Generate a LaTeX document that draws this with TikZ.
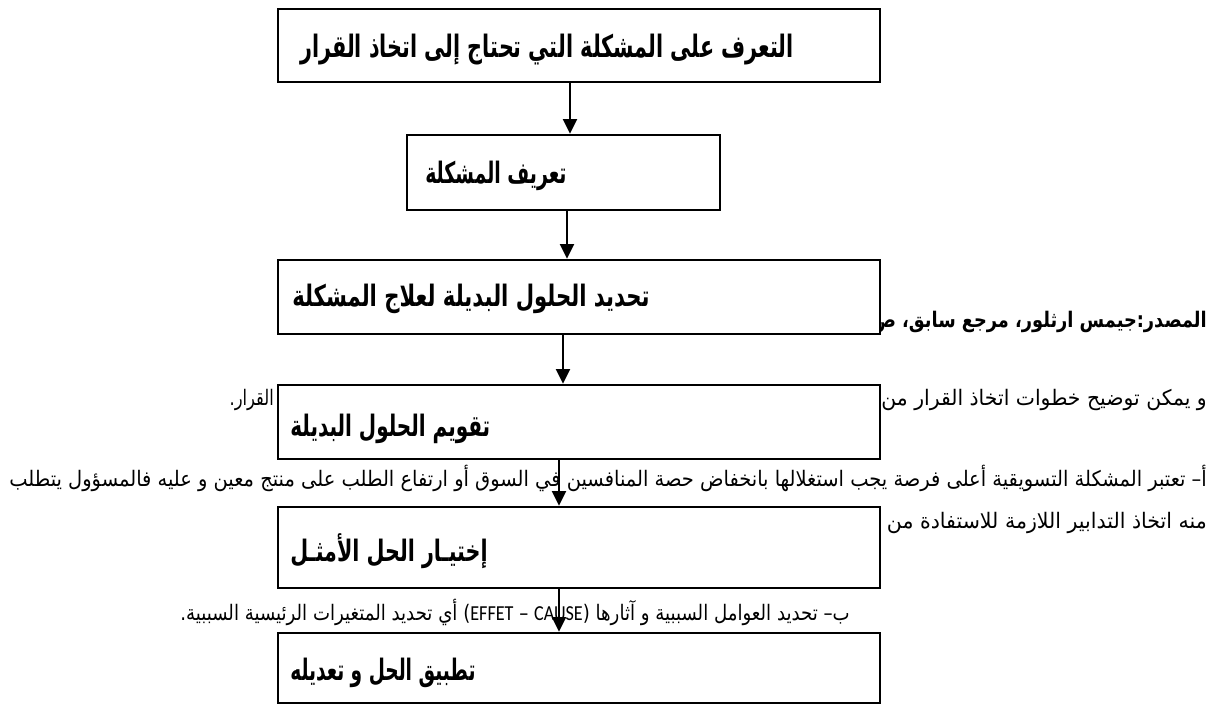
\documentclass[tikz,border=0pt]{standalone}
\usepackage{fontspec}
\usepackage{graphicx}
\TeXXeTstate=1
\newfontfamily\arabicfont[Script=Arabic]{DejaVu Sans}
\newfontfamily\latinfont{Carlito}
\usetikzlibrary{arrows.meta,fit}

% right-to-left Arabic run with a common ascender height
\newcommand{\rtl}[1]{{\arabicfont\beginR #1\endR\vphantom{آأ(}}}
% set a run to a given width and height
\newcommand{\fitto}[3]{\resizebox{#1}{#2}{#3}}

\tikzset{
  stepbox/.style={draw=black, line width=2pt, fill=white, inner sep=0pt},
  lbl/.style={inner sep=0pt, font=\arabicfont\bfseries},
  body/.style={inner sep=0pt, font=\arabicfont},
  arr/.style={line width=1.5pt, -{Triangle[length=11pt,width=10.5pt]}}
}

\begin{document}
\begin{tikzpicture}[x=0.75pt,y=-0.75pt]
\useasboundingbox (0,0) rectangle (1210,704);

% running text of the page
\node[body, font=\arabicfont\bfseries, anchor=base east] (src) at (1207,327)
  {\fitto{251pt}{16pt}{\rtl{المصدر:جيمس ارثلور، مرجع سابق، ص}}};
\node[body, anchor=base east] (p1r) at (1207,405)
  {\fitto{244pt}{16pt}{\rtl{و يمكن توضيح خطوات اتخاذ القرار من}}};
\node[body, anchor=base east] (p1l) at (274,405)
  {\fitto{33pt}{16pt}{\rtl{القرار.}}};
\node[body, anchor=base east] (p2) at (1207,486)
  {\fitto{898pt}{16pt}{\rtl{أ– تعتبر المشكلة التسويقية أعلى فرصة يجب استغلالها بانخفاض حصة المنافسين في السوق أو ارتفاع الطلب على منتج معين و عليه فالمسؤول يتطلب}}};
\node[body, anchor=base east] (p3) at (1207,528)
  {\fitto{249pt}{16pt}{\rtl{منه اتخاذ التدابير اللازمة للاستفادة من ا}}};
\node[body, anchor=base east] (p4) at (850,620)
  {\fitto{502pt}{16pt}{\rtl{ب– تحديد العوامل السببية و آثارها (\beginL{\latinfont CAUSE}\endL{} – \beginL{\latinfont EFFET}\endL) أي تحديد المتغيرات الرئيسية السببية.}}};

% flow chart boxes
\node[stepbox, fit={(278,9)(880,82)}] (b1) {};
\node[stepbox, fit={(407,135)(720,210)}] (b2) {};
\node[stepbox, fit={(278,260)(880,334)}] (b3) {};
\node[stepbox, fit={(278,385)(880,459)}] (b4) {};
\node[stepbox, fit={(278,507)(880,588)}] (b5) {};
\node[stepbox, fit={(278,633)(880,703)}] (b6) {};

% box captions
\node[lbl, anchor=base west] (t1) at (300,57)
  {\fitto{370pt}{23pt}{\rtl{التعرف على المشكلة التي تحتاج إلى اتخاذ القرار}}};
\node[lbl, anchor=base west] (t2) at (425,183)
  {\fitto{106pt}{22pt}{\rtl{تعريف المشكلة}}};
\node[lbl, anchor=base west] (t3) at (292,306)
  {\fitto{268pt}{22pt}{\rtl{تحديد الحلول البديلة لعلاج المشكلة}}};
\node[lbl, anchor=base west] (t4) at (290,436)
  {\fitto{150pt}{22pt}{\rtl{تقويم الحلول البديلة}}};
\node[lbl, anchor=base west] (t5) at (290,561)
  {\fitto{148pt}{22pt}{\rtl{إختيـار الحل الأمثـل}}};
\node[lbl, anchor=base west] (t6) at (290,680)
  {\fitto{139pt}{22pt}{\rtl{تطبيق الحل و تعديله}}};

% connectors
\coordinate (x1) at (570,0);
\coordinate (x2) at (567,0);
\coordinate (x3) at (563,0);
\coordinate (x4) at (559,0);
\coordinate (x5) at (559,0);
\draw[arr] (b1.south -| x1) -- (b2.north -| x1);
\draw[arr] (b2.south -| x2) -- (b3.north -| x2);
\draw[arr] (b3.south -| x3) -- (b4.north -| x3);
\draw[arr] (b4.south -| x4) -- (b5.north -| x4);
\draw[arr] (b5.south -| x5) -- (b6.north -| x5);
\end{tikzpicture}
\end{document}
